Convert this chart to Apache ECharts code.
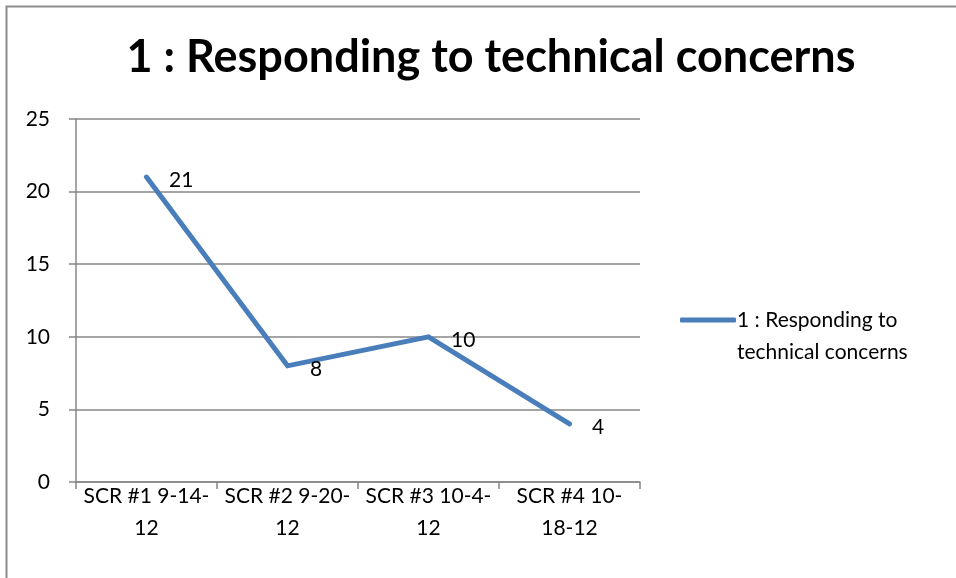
<!DOCTYPE html>
<html>
<head>
<meta charset="utf-8">
<script src="https://cdn.jsdelivr.net/npm/echarts@6/dist/echarts.min.js"></script>
<style>
  html, body { margin: 0; padding: 0; background: #fff; }
  #chart { width: 956px; height: 578px; }
</style>
</head>
<body>
<div id="chart"></div>
<script>
// chart data
const titleText = '1 : Responding to technical concerns'
const seriesName = '1 : Responding to technical concerns'
const categories = ['SCR #1 9-14-12', 'SCR #2 9-20-12', 'SCR #3 10-4-12', 'SCR #4 10-18-12']
const tickLabels = ['SCR #1 9-14-\n12', 'SCR #2 9-20-\n12', 'SCR #3 10-4-\n12', 'SCR #4 10-\n18-12']
const values = [21, 8, 10, 4]
// empty first line keeps the legend line level with the first text line
const legendLabel = ' \n1 : Responding to\ntechnical concerns'

const font = 'Lato, "Open Sans", sans-serif'
const gridColor = '#878787'
const lineColor = '#4a7ebb'

const chart = echarts.init(document.getElementById('chart'))

chart.setOption({
  animation: false,
  textStyle: { fontFamily: font },
  graphic: [
    {
      type: 'rect',
      shape: { x: 6.5, y: 6.5, width: 1000, height: 1000 },
      style: { fill: 'none', stroke: '#8c8c8c', lineWidth: 2 },
    },
  ],
  title: {
    text: titleText,
    left: 486,
    textAlign: 'center',
    top: 30,
    textStyle: {
      fontFamily: font,
      fontWeight: 'bold',
      fontSize: 45,
      color: '#000',
    },
  },
  legend: {
    data: [{ name: seriesName }],
    orient: 'vertical',
    left: 680,
    top: 272,
    padding: 0,
    itemWidth: 56,
    itemHeight: 5,
    itemGap: 4,
    icon: 'roundRect',
    itemStyle: { color: lineColor },
    formatter: () => legendLabel,
    textStyle: {
      fontFamily: font,
      fontSize: 21,
      color: '#000',
      lineHeight: 32,
      padding: [0, 0, 0, -4],
    },
  },
  grid: {
    left: 76,
    right: 316,
    top: 119,
    bottom: 96,
    containLabel: false,
  },
  xAxis: {
    type: 'category',
    data: categories,
    boundaryGap: true,
    axisLine: { lineStyle: { color: gridColor, width: 1.5 } },
    axisTick: { show: true, length: 7, lineStyle: { color: gridColor, width: 1.5 } },
    axisLabel: {
      interval: 0,
      margin: -2,
      fontSize: 21,
      lineHeight: 32,
      color: '#000',
      formatter: (v, i) => tickLabels[i],
    },
  },
  yAxis: {
    type: 'value',
    min: 0,
    max: 25,
    interval: 5,
    axisLine: { show: true, lineStyle: { color: gridColor, width: 1.5 } },
    axisTick: { show: true, length: 7, lineStyle: { color: gridColor, width: 1.5 } },
    splitLine: { lineStyle: { color: gridColor, width: 1.5 } },
    axisLabel: {
      margin: 26,
      fontSize: 21,
      color: '#000',
    },
  },
  series: [
    {
      name: seriesName,
      type: 'line',
      data: values,
      symbol: 'circle',
      symbolSize: 1,
      showSymbol: true,
      lineStyle: { color: lineColor, width: 5, cap: 'round', join: 'miter' },
      itemStyle: { color: lineColor },
      label: {
        show: true,
        position: 'right',
        distance: 22,
        offset: [0, 3],
        fontSize: 21,
        color: '#000',
      },
    },
  ],
})
</script>
</body>
</html>
